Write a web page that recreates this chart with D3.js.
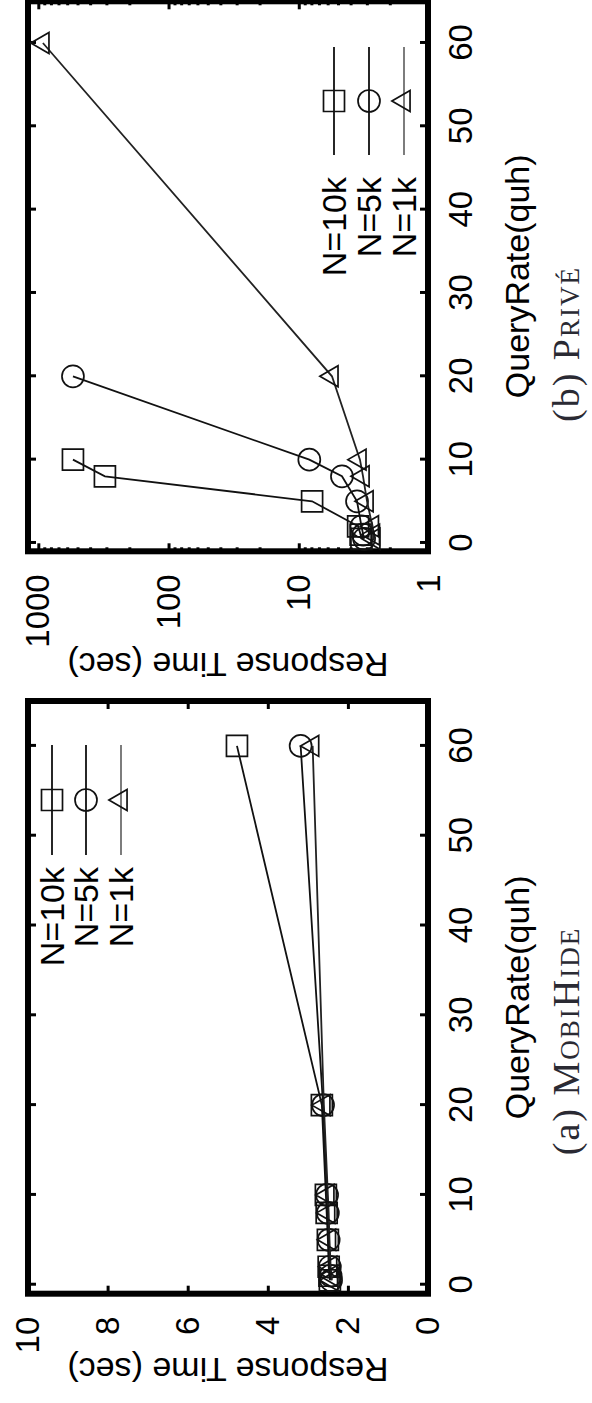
<!DOCTYPE html>
<html>
<head>
<meta charset="utf-8">
<script src="https://cdn.jsdelivr.net/npm/d3@7"></script>
<style>
  body { margin: 0; background: #fff; }
  svg { display: block; }
</style>
</head>
<body>
<svg id="fig" width="592" height="1403"></svg>
<script>
// query rates (quh) shared by every series
const queryRate = [0.5, 1, 2, 5, 8, 10, 20, 60];
const seriesLabels = ["N=10k", "N=5k", "N=1k"];

// (a) MobiHide response time (sec)
const mobiHide10k = [2.45, 2.46, 2.48, 2.5, 2.53, 2.55, 2.65, 4.77];
const mobiHide5k  = [2.42, 2.43, 2.45, 2.48, 2.5, 2.52, 2.62, 3.18];
const mobiHide1k  = [2.4, 2.41, 2.43, 2.46, 2.48, 2.5, 2.6, 2.88];

// (b) Prive response time (sec), series stop where they blow up
const prive10k = [3.3, 3.35, 3.5, 7.9, 308, 542];
const prive5k  = [3.15, 3.2, 3.3, 3.57, 4.66, 8.3, 542];
const prive1k  = [2.65, 2.67, 2.72, 2.99, 3.21, 3.39, 5.56, 922];

const rateTicks = [0, 10, 20, 30, 40, 50, 60];
const linearTicks = [0, 2, 4, 6, 8, 10];
const logTicks = [1, 10, 100, 1000];
const logMinor = [2,3,4,5,6,7,8,9,20,30,40,50,60,70,80,90,200,300,400,500,600,700,800,900];

const SANS = "'Liberation Sans', Arial, Helvetica, sans-serif";
const SERIF = "'Liberation Serif', 'Times New Roman', serif";

// the page is the figure turned a quarter turn counter-clockwise
const root = d3.select("#fig").append("g")
  .attr("transform", "translate(0,1403) rotate(-90)");

const symbols = [d3.symbolSquare, d3.symbolCircle, d3.symbolTriangle];
const symSizes = [441, 380, 190];
const lineColors = ["#111", "#111", "#222"];
const legendColors = ["#000", "#000", "#666"];

function drawPanel(p) {
  const top = 28, bottom = 428;
  const x = d3.scaleLinear().domain([-1, 65]).range([p.left, p.right]);
  const y = p.y;
  const g = root.append("g");

  const style = sel => {
    sel.attr("font-family", SANS).attr("font-size", 33);
    sel.select(".domain").remove();
    sel.selectAll(".tick line").attr("stroke", "#000").attr("stroke-width", 3);
    sel.selectAll(".tick text").attr("fill", "#000");
  };

  g.append("g").attr("transform", `translate(0,${bottom})`)
    .call(d3.axisBottom(x).tickValues(rateTicks).tickSize(-8).tickPadding(21))
    .call(style);
  g.append("g").attr("transform", `translate(0,${top})`)
    .call(d3.axisBottom(x).tickValues(rateTicks).tickSize(8).tickFormat(""))
    .call(style);

  g.append("g").attr("transform", `translate(${p.left},0)`)
    .call(d3.axisLeft(y).tickValues(p.yTicks).tickSize(-8).tickPadding(23).tickFormat(d3.format("d")))
    .call(style);
  g.append("g").attr("transform", `translate(${p.right},0)`)
    .call(d3.axisLeft(y).tickValues(p.yTicks).tickSize(8).tickFormat(""))
    .call(style);
  if (p.log) {
    g.append("g").attr("transform", `translate(${p.left},0)`)
      .call(d3.axisLeft(y).tickValues(logMinor).tickSize(-4).tickFormat(""))
      .call(style);
    g.append("g").attr("transform", `translate(${p.right},0)`)
      .call(d3.axisLeft(y).tickValues(logMinor).tickSize(4).tickFormat(""))
      .call(style);
  }

  g.append("rect")
    .attr("x", p.left).attr("y", top)
    .attr("width", p.right - p.left).attr("height", bottom - top)
    .attr("fill", "none").attr("stroke", "#000").attr("stroke-width", 6);

  // axis titles
  g.append("text")
    .attr("x", (p.left + p.right) / 2).attr("y", 517).attr("dy", "0.35em")
    .attr("text-anchor", "middle").attr("font-family", SANS).attr("font-size", 34)
    .text("QueryRate(quh)");
  g.append("text")
    .attr("transform", `translate(${p.yTitleX},${(top + bottom) / 2}) rotate(-90)`)
    .attr("dy", "0.35em").attr("text-anchor", "middle")
    .attr("font-family", SANS).attr("font-size", 34)
    .text("Response Time (sec)");

  // caption
  const cap = g.append("text")
    .attr("x", p.captionX).attr("y", 579)
    .attr("text-anchor", "middle").attr("font-family", SERIF).attr("font-size", 38)
    .attr("letter-spacing", 2).attr("fill", "#2a2a33");
  cap.append("tspan").text(p.captionTag + " ");
  cap.append("tspan").attr("font-variant", "small-caps").text(p.captionName);

  // series
  const line = d3.line().x(d => x(d.q)).y(d => y(d.v));
  p.series.forEach((vals, i) => {
    const pts = vals.map((v, k) => ({ q: queryRate[k], v }));
    g.append("path").datum(pts)
      .attr("d", line).attr("fill", "none")
      .attr("stroke", lineColors[i]).attr("stroke-width", 1.8);
    g.append("g").selectAll("path").data(pts).join("path")
      .attr("transform", d => `translate(${x(d.q)},${y(d.v)})`)
      .attr("d", d3.symbol(symbols[i], symSizes[i]))
      .attr("fill", "none").attr("stroke", "#111").attr("stroke-width", 1.7);
  });

  // legend
  const lg = p.legend;
  seriesLabels.forEach((name, i) => {
    const ly = lg.rows[i];
    g.append("line")
      .attr("x1", lg.x0).attr("x2", lg.x1).attr("y1", ly).attr("y2", ly)
      .attr("stroke", legendColors[i]).attr("stroke-width", 1.7);
    g.append("path")
      .attr("transform", `translate(${(lg.x0 + lg.x1) / 2},${ly})`)
      .attr("d", d3.symbol(symbols[i], symSizes[i]))
      .attr("fill", "none").attr("stroke", "#111").attr("stroke-width", 1.7);
    g.append("text")
      .attr("x", lg.textX).attr("y", ly).attr("dy", "0.36em")
      .attr("text-anchor", "end").attr("font-family", SANS).attr("font-size", 34)
      .text(name);
  });
}

drawPanel({
  left: 109.3, right: 702,
  y: d3.scaleLinear().domain([0, 10]).range([428, 27.5]),
  yTicks: linearTicks, log: false,
  yTitleX: 33,
  captionX: 362, captionTag: "(a)", captionName: "MobiHide",
  series: [mobiHide10k, mobiHide5k, mobiHide1k],
  legend: { x0: 548, x1: 658, rows: [52, 86, 121], textX: 536 }
});

drawPanel({
  left: 851.7, right: 1401.7,
  y: d3.scaleLog().domain([1, 1200]).range([429, 28]),
  yTicks: logTicks, log: true,
  yTitleX: 738,
  captionX: 1059, captionTag: "(b)", captionName: "Privé",
  series: [prive10k, prive5k, prive1k],
  legend: { x0: 1248, x1: 1356, rows: [334, 369, 404], textX: 1226 }
});
</script>
</body>
</html>
